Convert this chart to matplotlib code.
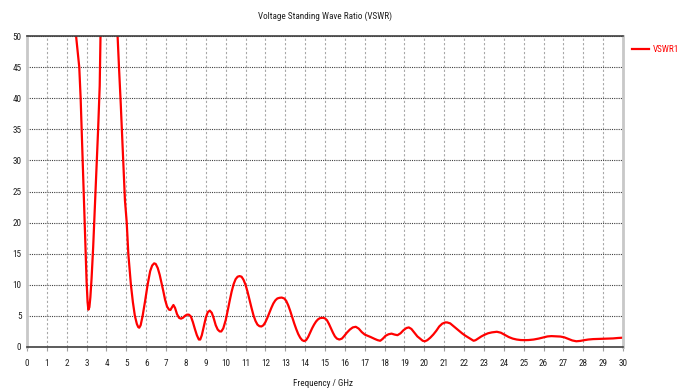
import matplotlib
matplotlib.use("Agg")
import matplotlib.pyplot as plt
from matplotlib import font_manager

freq = [2.30, 2.47, 2.55, 2.63, 2.70, 2.78, 2.88, 2.95, 3.00, 3.05, 3.09, 3.14, 3.19, 3.25, 3.33,
        3.41, 3.49, 3.58, 3.66, 3.70, 3.90, 4.10, 4.35, 4.56, 4.63, 4.72, 4.82, 4.93, 5.02, 5.10,
        5.17, 5.23, 5.33, 5.43, 5.53, 5.60, 5.65, 5.72, 5.82, 5.95, 6.07, 6.20, 6.30, 6.40, 6.48,
        6.58, 6.68, 6.78, 6.86, 6.95, 7.05, 7.15, 7.22, 7.30, 7.37, 7.45, 7.55, 7.65, 7.75, 7.85, 7.95,
        8.05, 8.15, 8.25, 8.35, 8.45, 8.55, 8.65, 8.72, 8.80, 8.90, 9.00, 9.10, 9.20, 9.30, 9.40,
        9.50, 9.60, 9.70, 9.78, 9.88, 10.0, 10.1, 10.2, 10.3, 10.4, 10.5, 10.6, 10.7, 10.8, 10.9,
        11.0, 11.1, 11.2, 11.3, 11.4, 11.5, 11.6, 11.7, 11.8, 11.9, 12.0, 12.1, 12.2, 12.3, 12.4,
        12.5, 12.6, 12.7, 12.82, 12.95, 13.05, 13.15, 13.25, 13.35, 13.45, 13.55, 13.65, 13.75,
        13.85, 13.95, 14.05, 14.15, 14.25, 14.35, 14.45, 14.55, 14.65, 14.75, 14.90, 15.00, 15.10,
        15.20, 15.30, 15.40, 15.50, 15.60, 15.72, 15.85, 15.95, 16.10, 16.25, 16.40, 16.55, 16.70,
        16.85, 17.00, 17.15, 17.30, 17.50, 17.65, 17.78, 17.90, 18.05, 18.20, 18.35, 18.50, 18.65,
        18.80, 18.95, 19.10, 19.22, 19.35, 19.50, 19.65, 19.80, 19.92, 20.03, 20.15, 20.30, 20.45,
        20.60, 20.75, 20.90, 21.05, 21.15, 21.30, 21.45, 21.60, 21.75, 21.90, 22.05, 22.20, 22.35,
        22.48, 22.58, 22.72, 22.87, 23.02, 23.20, 23.40, 23.65, 23.85, 24.05, 24.25, 24.45, 24.65,
        24.85, 25.05, 25.25, 25.50, 25.75, 26.00, 26.20, 26.40, 26.60, 26.85, 27.05, 27.25, 27.45,
        27.65, 27.85, 28.05, 28.25, 28.50, 28.75, 29.00, 29.25, 29.50, 29.75, 30.00]
vswr = [60, 50, 47.5, 45, 40, 32, 22, 15, 10.5, 7.2, 6.0, 6.4, 8.0, 11, 16,
        22, 28, 35, 42, 50, 70, 80, 70, 50, 45, 39, 31.5, 23.6, 20, 15,
        12.3, 10, 7.2, 5.0, 3.7, 3.2, 3.1, 3.5, 5.0, 7.5, 10.0, 12.2, 13.1, 13.45, 13.35,
        12.7, 11.6, 10.2, 9.0, 7.6, 6.5, 6.0, 5.95, 6.4, 6.75, 6.3, 5.3, 4.7, 4.55, 4.7, 5.0,
        5.2, 5.2, 4.9, 4.0, 2.9, 1.9, 1.2, 1.2, 1.9, 3.3, 4.7, 5.6, 5.85, 5.5, 4.6,
        3.5, 2.8, 2.5, 2.5, 3.0, 4.3, 5.8, 7.4, 8.9, 10.1, 10.9, 11.3, 11.4, 11.3, 10.8,
        10.0, 8.9, 7.6, 6.3, 5.1, 4.2, 3.6, 3.35, 3.3, 3.5, 4.0, 4.7, 5.5, 6.3, 7.0,
        7.5, 7.8, 7.9, 7.95, 7.8, 7.4, 6.7, 5.8, 4.8, 3.8, 2.9, 2.1, 1.5,
        1.1, 0.95, 1.1, 1.6, 2.3, 3.0, 3.6, 4.1, 4.45, 4.65, 4.7, 4.6, 4.3,
        3.7, 3.0, 2.3, 1.7, 1.35, 1.2, 1.35, 1.7, 2.3, 2.8, 3.15, 3.25, 2.95,
        2.4, 2.0, 1.8, 1.6, 1.3, 1.1, 1.0, 1.3, 1.8, 2.05, 2.15, 2.0, 1.9,
        2.2, 2.7, 3.05, 3.15, 2.9, 2.3, 1.7, 1.3, 1.0, 0.92, 1.1, 1.5, 2.0,
        2.6, 3.3, 3.75, 3.95, 3.95, 3.8, 3.4, 3.0, 2.6, 2.2, 1.85, 1.55, 1.25,
        1.0, 1.1, 1.4, 1.7, 1.95, 2.2, 2.35, 2.45, 2.3, 1.95, 1.6, 1.35, 1.2,
        1.12, 1.1, 1.12, 1.2, 1.35, 1.55, 1.7, 1.75, 1.72, 1.68, 1.55, 1.3, 1.05,
        0.92, 0.98, 1.1, 1.2, 1.27, 1.3, 1.33, 1.35, 1.38, 1.45, 1.5]

xticks = list(range(0, 31))
yticks = list(range(0, 51, 5))

names = {f.name for f in font_manager.fontManager.ttflist}
narrow = [n for n in ['Roboto Condensed', 'Liberation Sans Narrow', 'DejaVu Sans Condensed',
                      'Open Sans Condensed', 'Noto Sans Condensed', 'Arial Narrow'] if n in names]
if narrow:
    fam = narrow[0]
    fs = 6.6
else:
    fam = 'Liberation Sans' if 'Liberation Sans' in names else 'DejaVu Sans'
    fs = 6.0
plt.rcParams['font.family'] = [fam, 'DejaVu Sans']

W, H = 692, 389
fig = plt.figure(figsize=(W / 100, H / 100), dpi=100)
ax = fig.add_axes([27 / W, 1 - 347 / H, (623 - 27) / W, (347 - 36) / H])

ax.plot(freq, vswr, color='#ff0000', lw=1.6, label='VSWR1', solid_joinstyle='round')
ax.set_xlim(0, 30)
ax.set_ylim(0, 50)
ax.set_xticks(xticks)
ax.set_yticks(yticks)
ax.tick_params(axis='x', length=3, color='#a0a0a0', labelsize=fs, pad=6, labelcolor='#202020')
ax.tick_params(axis='y', length=0, labelsize=fs, pad=4, labelcolor='#202020')

ax.xaxis.grid(True, color='#a8a8a8', linestyle=(0, (2, 2)), lw=0.8)
ax.yaxis.grid(True, color='#404040', linestyle=(0, (1, 1)), lw=0.8)
ax.set_axisbelow(True)

for s in ['top', 'bottom']:
    ax.spines[s].set_color('#404040')
    ax.spines[s].set_linewidth(1.2)
for s in ['left', 'right']:
    ax.spines[s].set_color('#c8c8c8')
    ax.spines[s].set_linewidth(2)

fig.text(325 / W, 1 - 16 / H, 'Voltage Standing Wave Ratio (VSWR)', ha='center', va='center',
         fontsize=fs, color='#202020')
fig.text(323 / W, 1.5 / H, 'Frequency / GHz', ha='center', va='bottom', fontsize=fs, color='#202020')

leg = ax.legend(loc='upper left', bbox_to_anchor=(632 / W, 1 - 45 / H), bbox_transform=fig.transFigure,
                frameon=False, fontsize=fs, handlelength=1.9, handletextpad=0.4, borderpad=0, borderaxespad=0)
for t in leg.get_texts():
    t.set_color('#ff0000')

fig.savefig('out.png', dpi=100)
